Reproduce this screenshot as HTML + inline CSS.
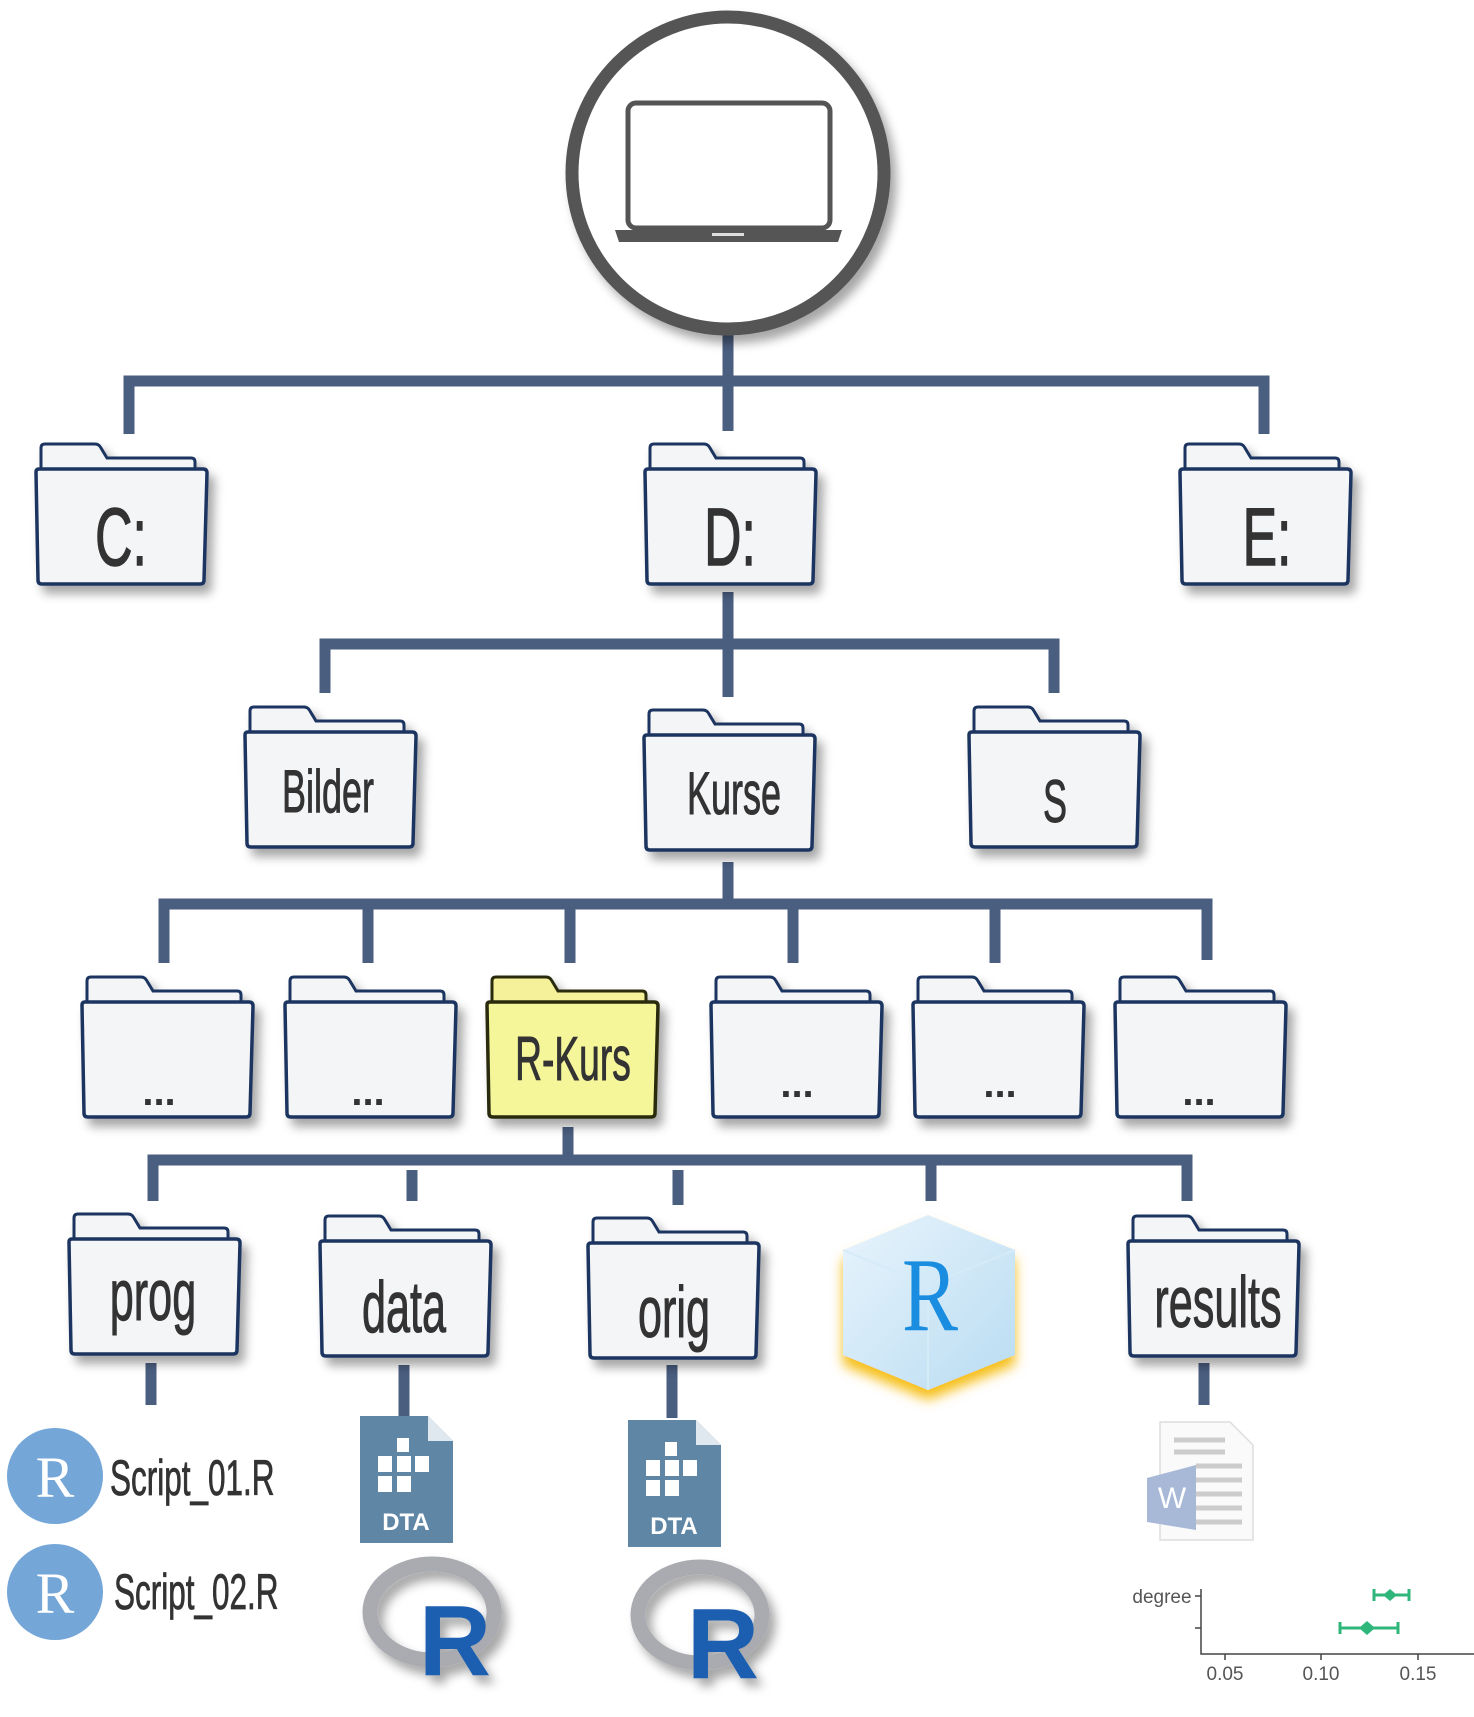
<!DOCTYPE html>
<html><head><meta charset="utf-8"><style>
html,body{margin:0;padding:0;background:#fff;}
svg{display:block}
text{font-family:"Liberation Sans",sans-serif;fill:#333;}
</style></head><body>
<svg width="1474" height="1717" viewBox="0 0 1474 1717" xmlns="http://www.w3.org/2000/svg">
<defs>
<filter id="sh" x="-20%" y="-20%" width="150%" height="150%"><feDropShadow dx="6" dy="8" stdDeviation="5" flood-color="#000" flood-opacity="0.35"/></filter>
<g id="folder">
<path d="M8,28 L8,6 Q8,2 12,2 L62,2 Q66,2 68,6 L74,16 L158,16 Q162,16 162,20 L162,28" fill="#f4f5f7" stroke="#1e3560" stroke-width="3"/>
<path d="M3,30 Q3,27 6,27 L170,27 Q174,27 174,31 L171,138 Q171,142 167,142 L9,142 Q5,142 5,138 Z" fill="#f4f5f7" stroke="#1e3560" stroke-width="3.5"/>
</g>
<g id="folderY">
<path d="M8,28 L8,6 Q8,2 12,2 L62,2 Q66,2 68,6 L74,16 L158,16 Q162,16 162,20 L162,28" fill="#f5f19a" stroke="#2b2b10" stroke-width="3"/>
<path d="M3,30 Q3,27 6,27 L170,27 Q174,27 174,31 L171,138 Q171,142 167,142 L9,142 Q5,142 5,138 Z" fill="#f5f59a" stroke="#2b2b10" stroke-width="3.5"/>
</g>
</defs>

<g stroke="#4a5e80" stroke-width="11" fill="none">
<path d="M728,333 V431 M129,434 V381 H1264 V434"/>
<path d="M728,592 V697 M325,693 V644 H1054 V693"/>
<path d="M728,862 V904 M164,963 V904 H1207 V960 M368,904 V963 M570,904 V963 M793,904 V963 M995,904 V963"/>
<path d="M568,1127 V1160 M153,1201 V1160 H1187 V1201 M412,1170 V1201 M678,1170 V1205 M931,1165 V1201"/>
<path d="M151,1363 V1405 M404,1365 V1416 M672,1365 V1418 M1204,1363 V1405"/>
</g>

<circle cx="728" cy="173" r="156" fill="#fff" stroke="#555" stroke-width="13" filter="url(#sh)"/>
<rect x="628" y="103" width="202" height="125" rx="8" fill="#fff" stroke="#555" stroke-width="5"/>
<path d="M615,230 H842 L838,242 H619 Z" fill="#555"/>
<rect x="712" y="233" width="32" height="3" fill="#ddd"/>

<g filter="url(#sh)">
<use href="#folder" transform="translate(33,442)"/>
<use href="#folder" transform="translate(642,442)"/>
<use href="#folder" transform="translate(1177,442)"/>
</g>
<g font-size="82" text-anchor="middle" stroke="#333" stroke-width="1.5">
<text transform="translate(121,565) scale(0.63,1)">C:</text>
<text transform="translate(730,565) scale(0.63,1)">D:</text>
<text transform="translate(1267,565) scale(0.63,1)">E:</text>
</g>

<g filter="url(#sh)">
<use href="#folder" transform="translate(242,705)"/>
<use href="#folder" transform="translate(641,708)"/>
<use href="#folder" transform="translate(966,705)"/>
</g>
<g font-size="60" text-anchor="middle" stroke="#333" stroke-width="1">
<text transform="translate(328,812) scale(0.6,1)">Bilder</text>
<text transform="translate(734,814) scale(0.6,1)">Kurse</text>
<text transform="translate(1055,822) scale(0.6,1)">S</text>
</g>

<g filter="url(#sh)">
<use href="#folder" transform="translate(79,975)"/>
<use href="#folder" transform="translate(282,975)"/>
<use href="#folderY" transform="translate(484,975)"/>
<use href="#folder" transform="translate(708,975)"/>
<use href="#folder" transform="translate(910,975)"/>
<use href="#folder" transform="translate(1112,975)"/>
</g>
<g font-size="40" font-weight="bold" text-anchor="middle">
<text x="159" y="1105">...</text>
<text x="368" y="1105">...</text>
<text x="797" y="1097">...</text>
<text x="1000" y="1097">...</text>
<text x="1199" y="1105">...</text>
</g>
<text transform="translate(573,1080) scale(0.6,1)" font-size="62" text-anchor="middle" stroke="#333" stroke-width="1">R-Kurs</text>

<g filter="url(#sh)">
<use href="#folder" transform="translate(66,1212)"/>
<use href="#folder" transform="translate(317,1214)"/>
<use href="#folder" transform="translate(585,1216)"/>
<use href="#folder" transform="translate(1125,1214)"/>
</g>
<g font-size="72" text-anchor="middle" stroke="#333" stroke-width="1">
<text transform="translate(153,1320) scale(0.6,1)">prog</text>
<text transform="translate(404,1332) scale(0.6,1)">data</text>
<text transform="translate(674,1337) scale(0.6,1)">orig</text>
<text transform="translate(1218,1327) scale(0.6,1)">results</text>
</g>

<defs><linearGradient id="cube" x1="0" y1="0" x2="1" y2="1"><stop offset="0" stop-color="#e8f4fc"/><stop offset="1" stop-color="#b9dcf2"/></linearGradient>
<filter id="glow" x="-30%" y="-30%" width="160%" height="160%"><feDropShadow dx="0" dy="10" stdDeviation="6" flood-color="#f5b800" flood-opacity="0.9"/></filter></defs>
<path d="M928,1215 L1015,1250 L1015,1355 L928,1390 L843,1355 L843,1250 Z" fill="url(#cube)" filter="url(#glow)"/>
<path d="M843,1250 L928,1285 L1015,1250 M928,1285 V1390" stroke="#d6ebf8" stroke-width="2" fill="none"/>
<text transform="translate(930,1330) scale(0.8,1)" font-size="105" text-anchor="middle" style="fill:#1a8de0;font-family:'Liberation Serif',serif">R</text>

<circle cx="55" cy="1476" r="48" fill="#74a6d8"/>
<circle cx="55" cy="1592" r="48" fill="#74a6d8"/>
<text x="55" y="1497" font-size="58" text-anchor="middle" style="fill:#fff;font-family:'Liberation Serif',serif">R</text>
<text x="55" y="1613" font-size="58" text-anchor="middle" style="fill:#fff;font-family:'Liberation Serif',serif">R</text>
<text transform="translate(110,1495) scale(0.63,1)" font-size="50" stroke="#333" stroke-width="0.8">Script_01.R</text>
<text transform="translate(114,1609) scale(0.63,1)" font-size="50" stroke="#333" stroke-width="0.8">Script_02.R</text>

<g>
<path d="M360,1416 H428 L453,1441 V1543 H360 Z" fill="#5f86a5"/>
<path d="M428,1416 L453,1441 H428 Z" fill="#dfe8ef"/>
<g fill="#fff"><rect x="397" y="1438" width="12" height="14"/><rect x="378" y="1456" width="14" height="16"/><rect x="397" y="1456" width="14" height="16"/><rect x="415" y="1456" width="14" height="16"/><rect x="378" y="1476" width="14" height="16"/><rect x="397" y="1476" width="14" height="16"/></g>
<text x="406" y="1530" font-size="24" font-weight="bold" text-anchor="middle" style="fill:#fff">DTA</text>
</g>
<g transform="translate(268,4)">
<path d="M360,1416 H428 L453,1441 V1543 H360 Z" fill="#5f86a5"/>
<path d="M428,1416 L453,1441 H428 Z" fill="#dfe8ef"/>
<g fill="#fff"><rect x="397" y="1438" width="12" height="14"/><rect x="378" y="1456" width="14" height="16"/><rect x="397" y="1456" width="14" height="16"/><rect x="415" y="1456" width="14" height="16"/><rect x="378" y="1476" width="14" height="16"/><rect x="397" y="1476" width="14" height="16"/></g>
<text x="406" y="1530" font-size="24" font-weight="bold" text-anchor="middle" style="fill:#fff">DTA</text>
</g>

<g filter="url(#sh)">
<ellipse cx="432" cy="1612" rx="62" ry="48" fill="none" stroke="#a9abb0" stroke-width="15"/>
<text x="455" y="1675" font-size="100" font-weight="bold" text-anchor="middle" style="fill:#1f5fb0">R</text>
<ellipse cx="700" cy="1615" rx="62" ry="48" fill="none" stroke="#a9abb0" stroke-width="15"/>
<text x="723" y="1678" font-size="100" font-weight="bold" text-anchor="middle" style="fill:#1f5fb0">R</text>
</g>

<path d="M1160,1422 H1230 L1253,1445 V1540 H1160 Z" fill="#fafafa" stroke="#ddd" stroke-width="1.5"/>
<g stroke="#ccc" stroke-width="5"><path d="M1174,1440 H1225 M1174,1452 H1225 M1196,1466 H1242 M1196,1480 H1242 M1196,1494 H1242 M1196,1508 H1242 M1196,1522 H1242"/></g>
<path d="M1147,1478 L1196,1465 V1530 L1147,1522 Z" fill="#a8b9d8"/>
<text x="1172" y="1508" font-size="30" text-anchor="middle" style="fill:#fff">W</text>

<g stroke="#444" stroke-width="1.5" fill="none">
<path d="M1201,1589 V1654 H1474 M1195,1596 H1201 M1195,1628 H1201 M1225,1654 V1660 M1321,1654 V1660 M1418,1654 V1660"/>
</g>
<g stroke="#2fb67a" stroke-width="3"><path d="M1374,1595 H1409 M1374,1589 V1601 M1409,1589 V1601 M1340,1628 H1398 M1340,1622 V1634 M1398,1622 V1634"/></g>
<path d="M1390,1589 l7,6 -7,6 -7,-6Z M1367,1621 l8,7 -8,7 -8,-7Z" fill="#2fb67a"/>
<g font-size="19" text-anchor="middle">
<text x="1162" y="1603" style="fill:#555">degree</text>
<text x="1225" y="1680" style="fill:#555">0.05</text>
<text x="1321" y="1680" style="fill:#555">0.10</text>
<text x="1418" y="1680" style="fill:#555">0.15</text>
</g>
</svg>
</body></html>
